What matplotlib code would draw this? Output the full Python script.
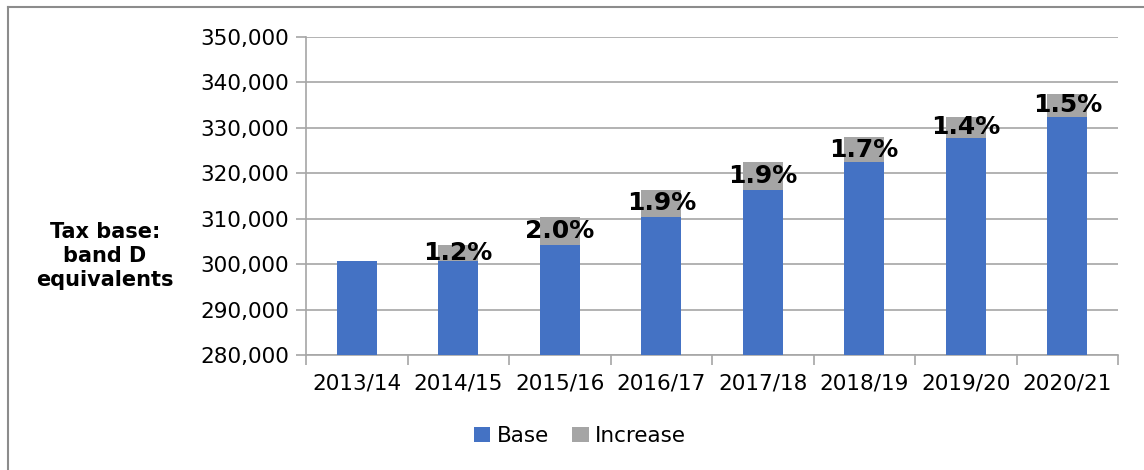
import numpy as np
import matplotlib
matplotlib.use('Agg')
import matplotlib.pyplot as plt
from matplotlib.lines import Line2D
from matplotlib.ticker import FuncFormatter

# ─── data ─────────────────────────────────────────────────────────────────────
YEARS    = ['2013/14', '2014/15', '2015/16', '2016/17',
            '2017/18', '2018/19', '2019/20', '2020/21']
BASE     = [300660, 300600, 304250, 310400, 316250, 322450, 327850, 332450]
INCREASE = [0, 3650, 6200, 6000, 6200, 5450, 4650, 5050]
PCT_LBL  = ['', '1.2%', '2.0%', '1.9%', '1.9%', '1.7%', '1.4%', '1.5%']

BLUE = '#4472C4'
GREY = '#A5A5A5'
AXIS = '#A6A6A6'

W, H = 1144, 470
plt.rcParams['font.family'] = 'DejaVu Sans'

fig = plt.figure(figsize=(W / 100, H / 100), dpi=100)
ax = fig.add_axes([306 / W, 1 - 355 / H, (1118 - 306) / W, (355 - 37) / H])

x = np.arange(len(YEARS))
bw = 0.39
ax.bar(x, BASE, width=bw, color=BLUE, label='Base', zorder=3)
ax.bar(x, INCREASE, width=bw, bottom=BASE, color=GREY,
       label='Increase', zorder=3)

for xi, b, inc, lbl in zip(x, BASE, INCREASE, PCT_LBL):
    if lbl:
        ax.text(xi, b + inc / 2, lbl, ha='center', va='center',
                fontsize=18, fontweight='bold', color='black', zorder=4)

ax.set_ylim(280000, 350000)
ax.set_xlim(-0.5, len(YEARS) - 0.5)
ax.set_yticks(np.arange(280000, 350001, 10000))
ax.yaxis.set_major_formatter(FuncFormatter(lambda v, p: f'{int(v):,}'))
ax.set_xticks(x)
ax.set_xticklabels(YEARS)
ax.set_xticks(np.arange(-0.5, len(YEARS)), minor=True)
ax.tick_params(axis='x', which='major', length=0, labelsize=15.5, pad=13)
ax.tick_params(axis='x', which='minor', length=7, color=AXIS, width=1.2)
ax.tick_params(axis='y', length=7, color=AXIS, width=1.2, labelsize=15.5, pad=5)

ax.grid(axis='y', color=AXIS, lw=1.2, zorder=0)
for s in ['top', 'right']:
    ax.spines[s].set_visible(False)
for s in ['left', 'bottom']:
    ax.spines[s].set_color(AXIS)
    ax.spines[s].set_linewidth(1.2)

fig.text(105 / W, 1 - 256 / H, 'Tax base:\nband D\nequivalents',
         ha='center', va='center', fontsize=15, fontweight='bold',
         linespacing=1.25)

fig.legend(loc='center', bbox_to_anchor=(580 / W, 1 - 436 / H), ncol=2,
           frameon=False, fontsize=15.5, handlelength=0.75, handleheight=0.75,
           handletextpad=0.3, columnspacing=1.1)

# chart border (only top and left edges fall inside the image)
fig.add_artist(Line2D([8 / W, 1.0], [1 - 7 / H] * 2, transform=fig.transFigure,
                      color='#8C8C8C', lw=1.5))
fig.add_artist(Line2D([8 / W] * 2, [0.0, 1 - 7 / H], transform=fig.transFigure,
                      color='#8C8C8C', lw=1.5))

fig.savefig('out.png', dpi=100)
